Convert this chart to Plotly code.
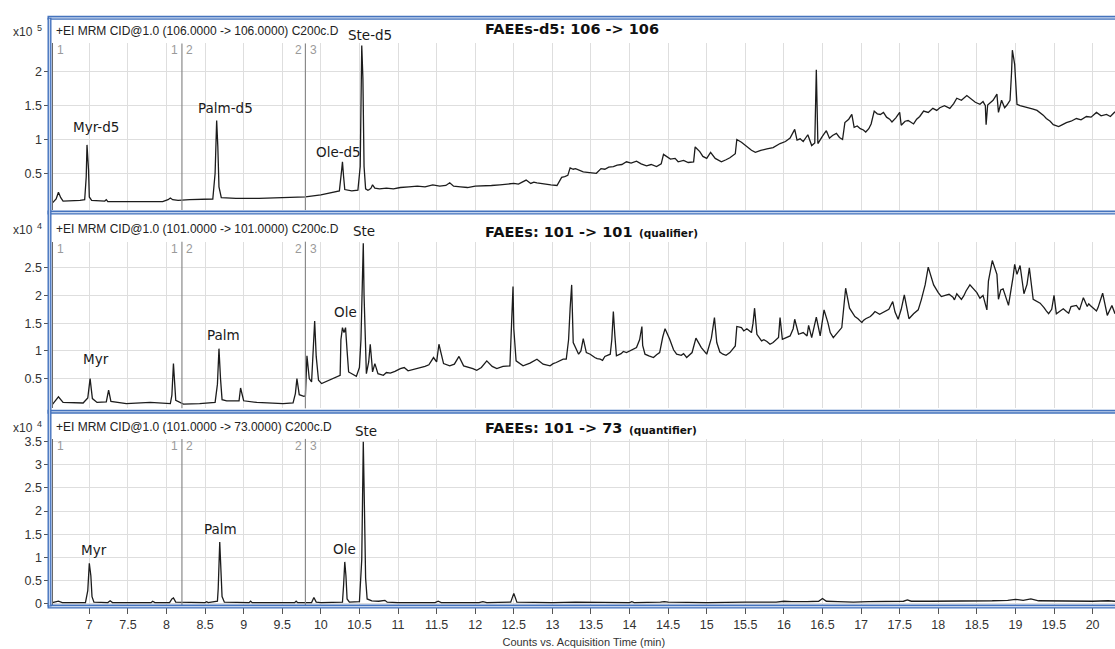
import plotly.graph_objects as go

# ---------------- data (counts in displayed units: x10^5 / x10^4) ----------------
# Panel 1: FAEEs-d5 106 -> 106  (x10^5)
t1 = [6.52, 6.57, 6.60, 6.63, 6.66, 6.75, 6.88, 6.94, 6.96, 6.97,
      6.99, 7.00, 7.03, 7.20, 7.22, 7.24, 7.40, 7.60, 7.80, 7.95,
      8.02, 8.05, 8.08, 8.15, 8.30, 8.50, 8.60, 8.63, 8.65, 8.665,
      8.68, 8.71, 8.90, 9.20, 9.50, 9.80, 10.00, 10.15, 10.24, 10.27,
      10.28, 10.295, 10.31, 10.40, 10.48, 10.51, 10.52, 10.53, 10.545, 10.56,
      10.58, 10.63, 10.67, 10.70, 10.85, 11.03, 11.25, 11.45, 11.62, 11.67,
      11.72, 11.90, 12.10, 12.32, 12.50, 12.62, 12.66, 12.72, 12.80, 12.90,
      13.06, 13.12, 13.20, 13.23, 13.30, 13.40, 13.57, 13.63, 13.79, 13.96,
      14.09, 14.22, 14.35, 14.41, 14.44, 14.59, 14.63, 14.70, 14.83, 14.85,
      14.91, 15.00, 15.05, 15.11, 15.19, 15.30, 15.37, 15.39, 15.45, 15.52,
      15.63, 15.78, 15.95, 16.08, 16.14, 16.17, 16.25, 16.31, 16.36, 16.40,
      16.42, 16.44, 16.55, 16.59, 16.68, 16.76, 16.79, 16.88, 16.91, 16.99,
      17.06, 17.13, 17.17, 17.25, 17.33, 17.40, 17.50, 17.52, 17.61, 17.68,
      17.76, 17.81, 17.93, 18.02, 18.15, 18.24, 18.37, 18.48, 18.54, 18.61,
      18.62, 18.64, 18.71, 18.76, 18.78, 18.82, 18.89, 18.93, 18.95, 18.96,
      18.99, 19.02, 19.10, 19.23, 19.32, 19.40, 19.49, 19.56, 19.66, 19.79,
      19.92, 20.05, 20.18, 20.29]
v1 = [0.06, 0.12, 0.22, 0.14, 0.09, 0.09, 0.10, 0.11, 0.45, 0.92,
      0.55, 0.15, 0.10, 0.09, 0.11, 0.08, 0.08, 0.07, 0.07, 0.08,
      0.11, 0.135, 0.11, 0.10, 0.11, 0.11, 0.12, 0.50, 1.28, 0.90,
      0.30, 0.14, 0.13, 0.13, 0.14, 0.15, 0.18, 0.22, 0.24, 0.55,
      0.67, 0.45, 0.26, 0.24, 0.25, 0.60, 1.90, 2.39, 1.90, 0.60,
      0.27, 0.26, 0.33, 0.28, 0.28, 0.29, 0.31, 0.33, 0.32, 0.36,
      0.31, 0.29, 0.31, 0.33, 0.35, 0.37, 0.40, 0.35, 0.36, 0.34,
      0.32, 0.44, 0.47, 0.58, 0.57, 0.52, 0.50, 0.57, 0.60, 0.67,
      0.68, 0.61, 0.60, 0.64, 0.78, 0.72, 0.67, 0.69, 0.67, 0.89,
      0.82, 0.72, 0.81, 0.72, 0.67, 0.73, 0.79, 1.00, 0.96, 0.89,
      0.81, 0.86, 0.94, 1.02, 1.15, 0.99, 0.97, 1.07, 0.91, 0.95,
      2.03, 0.94, 1.13, 1.02, 1.09, 1.00, 1.25, 1.37, 1.18, 1.16,
      1.11, 1.23, 1.42, 1.37, 1.33, 1.26, 1.40, 1.21, 1.28, 1.23,
      1.34, 1.42, 1.46, 1.47, 1.46, 1.61, 1.65, 1.55, 1.52, 1.50,
      1.22, 1.51, 1.58, 1.67, 1.40, 1.58, 1.51, 1.58, 2.00, 2.32,
      2.11, 1.52, 1.49, 1.45, 1.40, 1.31, 1.22, 1.19, 1.25, 1.31,
      1.34, 1.40, 1.37, 1.41]
# Panel 1: extra noise samples read between the main points
t1b = [10.61, 10.65, 10.76, 10.94, 11.14, 11.35, 11.54, 11.81, 12.00, 12.21,
       12.41, 12.56, 12.76, 12.85, 12.98, 13.16, 13.27, 13.35, 13.48, 13.68,
       13.73, 13.84, 13.90, 14.02, 14.15, 14.28, 14.48, 14.53, 14.76, 14.95,
       15.15, 15.25, 15.49, 15.58, 15.70, 15.86, 16.02, 16.21, 16.50, 16.63,
       16.72, 16.84, 16.95, 17.03, 17.10, 17.21, 17.29, 17.37, 17.45, 17.57,
       17.65, 17.72, 17.87, 17.98, 18.08, 18.20, 18.30, 18.42, 18.58, 18.68,
       18.86, 19.06, 19.16, 19.28, 19.36, 19.45, 19.61, 19.72, 19.85, 19.98,
       20.11, 20.23]
v1b = [0.25, 0.28, 0.27, 0.27, 0.30, 0.30, 0.31, 0.30, 0.31, 0.32,
       0.34, 0.34, 0.37, 0.35, 0.33, 0.45, 0.56, 0.54, 0.51, 0.56,
       0.59, 0.62, 0.63, 0.65, 0.64, 0.63, 0.75, 0.71, 0.66, 0.75,
       0.70, 0.70, 0.92, 0.84, 0.84, 0.88, 0.97, 1.01, 1.05, 1.06,
       1.03, 1.30, 1.20, 1.14, 1.16, 1.38, 1.40, 1.30, 1.32, 1.27,
       1.25, 1.30, 1.40, 1.43, 1.50, 1.53, 1.58, 1.60, 1.56, 1.55,
       1.47, 1.50, 1.47, 1.43, 1.36, 1.27, 1.22, 1.27, 1.29, 1.33,
       1.35, 1.34]

# Panel 2: FAEEs 101 -> 101 qualifier (x10^4)
t2 = [6.52, 6.60, 6.66, 6.92, 6.98, 7.01, 7.04, 7.10, 7.22, 7.25,
      7.28, 7.48, 7.79, 8.05, 8.07, 8.09, 8.12, 8.22, 8.43, 8.63,
      8.66, 8.68, 8.70, 8.72, 8.78, 8.94, 8.96, 9.00, 9.17, 9.51,
      9.64, 9.67, 9.69, 9.72, 9.78, 9.80, 9.82, 9.85, 9.88, 9.90,
      9.92, 9.94, 9.97, 10.01, 10.16, 10.25, 10.26, 10.28, 10.30, 10.32,
      10.34, 10.36, 10.46, 10.50, 10.52, 10.535, 10.55, 10.56, 10.58, 10.59,
      10.62, 10.64, 10.66, 10.67, 10.70, 10.74, 10.81, 10.90, 11.03, 11.13,
      11.24, 11.35, 11.46, 11.50, 11.53, 11.59, 11.67, 11.79, 11.85, 11.93,
      12.02, 12.15, 12.28, 12.36, 12.45, 12.47, 12.49, 12.50, 12.53, 12.62,
      12.71, 12.80, 12.88, 12.97, 13.05, 13.14, 13.18, 13.21, 13.23, 13.25,
      13.27, 13.34, 13.37, 13.40, 13.44, 13.49, 13.55, 13.62, 13.68, 13.75,
      13.77, 13.79, 13.81, 13.83, 13.89, 13.96, 14.02, 14.09, 14.13, 14.16,
      14.17, 14.20, 14.31, 14.39, 14.43, 14.46, 14.52, 14.61, 14.67, 14.74,
      14.81, 14.86, 14.93, 15.00, 15.06, 15.10, 15.13, 15.21, 15.30, 15.37,
      15.39, 15.45, 15.52, 15.58, 15.60, 15.62, 15.65, 15.71, 15.78, 15.86,
      15.93, 15.95, 15.98, 16.08, 16.12, 16.14, 16.19, 16.30, 16.32, 16.36,
      16.42, 16.47, 16.52, 16.57, 16.64, 16.70, 16.75, 16.80, 16.85, 16.92,
      17.01, 17.06, 17.12, 17.18, 17.24, 17.31, 17.36, 17.41, 17.44, 17.48,
      17.52, 17.56, 17.60, 17.62, 17.68, 17.74, 17.78, 17.83, 17.87, 17.94,
      18.00, 18.09, 18.19, 18.24, 18.30, 18.36, 18.41, 18.50, 18.58, 18.63,
      18.65, 18.70, 18.76, 18.78, 18.81, 18.84, 18.91, 18.97, 18.99, 19.02,
      19.06, 19.11, 19.15, 19.18, 19.23, 19.32, 19.37, 19.43, 19.47, 19.50,
      19.53, 19.59, 19.66, 19.72, 19.79, 19.83, 19.88, 19.93, 19.97, 20.03,
      20.07, 20.13, 20.19, 20.25, 20.29]
v2 = [0.03, 0.17, 0.07, 0.06, 0.15, 0.50, 0.14, 0.07, 0.08, 0.29,
      0.09, 0.05, 0.07, 0.05, 0.20, 0.77, 0.11, 0.04, 0.05, 0.07,
      0.40, 1.04, 0.50, 0.12, 0.10, 0.10, 0.33, 0.10, 0.07, 0.05,
      0.06, 0.23, 0.50, 0.21, 0.18, 0.19, 0.91, 0.50, 0.44, 0.90,
      1.54, 0.90, 0.47, 0.41, 0.50, 0.56, 1.20, 1.42, 1.33, 1.42,
      1.00, 0.62, 0.54, 0.70, 1.21, 2.00, 2.94, 2.00, 0.90, 0.59,
      0.80, 1.12, 0.80, 0.62, 0.77, 0.59, 0.56, 0.60, 0.68, 0.64,
      0.68, 0.72, 0.88, 0.80, 1.12, 0.77, 0.73, 0.90, 0.73, 0.70,
      0.65, 0.82, 0.68, 0.72, 0.73, 1.50, 2.16, 1.40, 0.82, 0.73,
      0.78, 0.85, 0.76, 0.73, 0.79, 0.85, 0.85, 1.20, 1.77, 2.19,
      1.15, 0.94, 1.00, 1.22, 0.97, 0.94, 0.88, 0.85, 0.90, 0.94,
      1.20, 1.71, 1.27, 0.91, 0.95, 0.97, 1.01, 1.06, 1.20, 1.44,
      1.10, 0.94, 0.88, 0.97, 1.25, 1.40, 1.21, 0.94, 0.92, 0.88,
      0.97, 1.23, 1.06, 0.94, 1.23, 1.60, 1.15, 0.94, 0.97, 1.09,
      1.44, 1.42, 1.40, 1.33, 1.50, 1.77, 1.30, 1.18, 1.17, 1.15,
      1.24, 1.60, 1.21, 1.27, 1.40, 1.57, 1.30, 1.27, 1.46, 1.24,
      1.61, 1.27, 1.74, 1.51, 1.24, 1.35, 1.42, 2.13, 1.77, 1.62,
      1.51, 1.58, 1.62, 1.71, 1.66, 1.72, 1.75, 1.89, 1.70, 1.57,
      1.75, 2.01, 1.75, 1.58, 1.67, 1.74, 1.92, 2.19, 2.51, 2.19,
      2.05, 2.00, 1.97, 2.03, 1.93, 2.08, 2.19, 2.05, 2.00, 1.74,
      2.26, 2.63, 2.38, 1.93, 2.10, 2.12, 1.82, 2.34, 2.56, 2.38,
      2.54, 2.03, 2.20, 2.50, 1.93, 1.86, 1.78, 1.67, 1.75, 2.00,
      1.67, 1.72, 1.71, 1.80, 1.82, 1.74, 1.96, 1.80, 1.82, 1.75,
      1.78, 2.04, 1.64, 1.82, 1.67]
# Panel 2: extra noise samples read between the main points
t2b = [10.85, 10.96, 11.08, 11.19, 11.30, 11.40, 11.73, 11.97, 12.08, 12.22,
       12.32, 12.66, 12.84, 13.01, 13.10, 13.58, 13.65, 13.92, 14.05, 14.25,
       14.35, 14.57, 14.70, 15.17, 15.25, 15.48, 15.74, 15.82, 16.03, 16.25,
       16.60, 16.96, 17.03, 17.15, 17.28, 18.04, 18.14, 18.21, 18.33, 18.45,
       18.54, 19.35, 19.40, 19.62, 19.69, 19.95, 20.05]
v2b = [0.61, 0.63, 0.70, 0.66, 0.70, 0.75, 0.76, 0.68, 0.70, 0.72,
       0.70, 0.75, 0.80, 0.77, 0.82, 0.86, 0.83, 0.99, 1.03, 0.91,
       0.93, 1.02, 0.95, 0.98, 0.92, 1.36, 1.20, 1.12, 1.24, 1.33,
       1.33, 1.58, 1.55, 1.66, 1.69, 1.98, 2.02, 1.92, 1.99, 2.13,
       1.95, 1.82, 1.72, 1.76, 1.68, 1.85, 1.72]

# Panel 3: FAEEs 101 -> 73 quantifier (x10^4)
t3 = [6.52, 6.60, 6.65, 6.95, 6.98, 7.00, 7.02, 7.035, 7.06, 7.24,
      7.27, 7.30, 7.80, 7.82, 7.85, 8.04, 8.07, 8.09, 8.12, 8.50,
      8.52, 8.54, 8.66, 8.67, 8.69, 8.705, 8.72, 8.75, 9.07, 9.09,
      9.11, 9.66, 9.68, 9.70, 9.88, 9.91, 9.94, 10.00, 10.28, 10.295,
      10.31, 10.325, 10.34, 10.37, 10.50, 10.53, 10.55, 10.565, 10.58, 10.60,
      10.66, 10.75, 10.83, 10.86, 11.00, 11.48, 11.52, 11.56, 12.05, 12.10,
      12.15, 12.46, 12.50, 12.54, 13.00, 13.30, 14.00, 14.03, 14.06, 14.40,
      14.45, 14.50, 15.00, 15.50, 15.90, 16.00, 16.10, 16.30, 16.45, 16.50,
      16.55, 16.70, 16.90, 17.10, 17.30, 17.55, 17.60, 17.65, 17.90, 18.10,
      18.30, 18.50, 18.70, 18.90, 19.00, 19.10, 19.20, 19.30, 19.60, 19.80,
      20.00, 20.20, 20.29]
v3 = [0.02, 0.05, 0.02, 0.02, 0.28, 0.87, 0.60, 0.15, 0.03, 0.02,
      0.06, 0.02, 0.02, 0.05, 0.02, 0.02, 0.10, 0.12, 0.03, 0.02,
      0.04, 0.02, 0.05, 0.32, 1.33, 0.67, 0.15, 0.03, 0.02, 0.05,
      0.02, 0.02, 0.05, 0.02, 0.02, 0.13, 0.03, 0.02, 0.03, 0.40,
      0.90, 0.60, 0.10, 0.03, 0.04, 0.95, 3.50, 2.05, 0.55, 0.10,
      0.06, 0.05, 0.07, 0.03, 0.02, 0.02, 0.05, 0.02, 0.02, 0.04,
      0.02, 0.03, 0.22, 0.03, 0.02, 0.03, 0.02, 0.04, 0.02, 0.03,
      0.04, 0.03, 0.02, 0.03, 0.03, 0.05, 0.04, 0.04, 0.05, 0.11,
      0.05, 0.04, 0.03, 0.04, 0.04, 0.05, 0.08, 0.05, 0.05, 0.05,
      0.06, 0.06, 0.06, 0.07, 0.09, 0.07, 0.10, 0.06, 0.05, 0.05,
      0.05, 0.06, 0.05]

x_tick_vals = [7, 7.5, 8, 8.5, 9, 9.5, 10, 10.5, 11, 11.5, 12, 12.5, 13, 13.5,
               14, 14.5, 15, 15.5, 16, 16.5, 17, 17.5, 18, 18.5, 19, 19.5, 20]
x_tick_text = ["7", "7.5", "8", "8.5", "9", "9.5", "10", "10.5", "11", "11.5", "12",
               "12.5", "13", "13.5", "14", "14.5", "15", "15.5", "16", "16.5", "17",
               "17.5", "18", "18.5", "19", "19.5", "20"]
y1_ticks = [0.5, 1, 1.5, 2]
y1_text = ["0.5", "1", "1.5", "2"]
y2_ticks = [0.5, 1, 1.5, 2, 2.5]
y2_text = ["0.5", "1", "1.5", "2", "2.5"]
y3_ticks = [0, 0.5, 1, 1.5, 2, 2.5, 3, 3.5]
y3_text = ["0", "0.5", "1", "1.5", "2", "2.5", "3", "3.5"]
segment_bounds = [8.2, 9.8]
x_title = "Counts vs. Acquisition Time (min)"

headers = ["+EI MRM CID@1.0 (106.0000 -> 106.0000) C200c.D",
           "+EI MRM CID@1.0 (101.0000 -> 101.0000) C200c.D",
           "+EI MRM CID@1.0 (101.0000 -> 73.0000) C200c.D"]
titles = ["FAEEs-d5: 106 -> 106", "FAEEs: 101 -> 101", "FAEEs: 101 -> 73"]
subtitles = ["", "(qualifier)", "(quantifier)"]
exponents = ["5", "4", "4"]
peak_names = [["Myr-d5", "Palm-d5", "Ole-d5", "Ste-d5"],
              ["Myr", "Palm", "Ole", "Ste"],
              ["Myr", "Palm", "Ole", "Ste"]]

# ---------------- layout geometry (pixels) ----------------
W, H = 1115, 649


def px(x):
    return x / W


def py(y):
    return 1 - y / H


X_LEFT = 52.5
XR = [6.523, 20.29]
plot_tops = [40, 241, 441]
plot_bots = [209, 410, 610]
y_ranges = [[-0.044, 2.42], [-0.036, 2.97], [-0.043, 3.56]]
frame_tops = [14, 211.5, 413.5]
frame_bottom = 611
header_y = [27, 228, 429]
title_y = [25, 231, 430]
subtitle_x = [0, 637, 627]
peak_pos = [[(95.5, 125), (225.5, 105), (338, 150), (370, 31)],
            [(96, 360), (223, 336), (345, 312), (363.5, 230)],
            [(94, 554), (220.5, 532), (344.5, 553), (366, 433)]]

FONT = "Liberation Sans, Arial, sans-serif"
LBL_FONT = "DejaVu Sans, Verdana, sans-serif"
GRID = "#dedede"
LINE = "#1c1c1c"


def merged(ta, va, tb, vb):
    pts = sorted(zip(ta + tb, va + vb))
    return [p[0] for p in pts], [p[1] for p in pts]


fig = go.Figure()
series = [merged(t1, v1, t1b, v1b), merged(t2, v2, t2b, v2b), (t3, v3)]
for i, (tt, vv) in enumerate(series):
    sfx = "" if i == 0 else str(i + 1)
    fig.add_trace(go.Scatter(x=tt, y=vv, mode="lines", xaxis="x" + sfx, yaxis="y" + sfx,
                             line=dict(color=LINE, width=1.3), hoverinfo="skip",
                             showlegend=False))

layout = dict(width=W, height=H, margin=dict(l=0, r=0, t=0, b=0),
              paper_bgcolor="white", plot_bgcolor="white", showlegend=False)

ytv = [y1_ticks, y2_ticks, y3_ticks]
ytt = [y1_text, y2_text, y3_text]
for i in range(3):
    sfx = "" if i == 0 else str(i + 1)
    xa = dict(domain=[px(X_LEFT), 1], range=XR, anchor="y" + sfx,
              tickvals=x_tick_vals, ticktext=x_tick_text,
              showgrid=True, gridcolor=GRID, gridwidth=1, zeroline=False,
              showline=False, ticks="", showticklabels=False)
    if i == 2:
        xa.update(ticks="outside", ticklen=7, tickcolor="#555", tickwidth=1,
                  showticklabels=True, automargin=False,
                  tickfont=dict(family=FONT, size=12.5, color="#333"),
                  title=dict(text=x_title, standoff=7,
                             font=dict(family=FONT, size=11, color="#333")))
    ya = dict(domain=[py(plot_bots[i]), py(plot_tops[i])], range=y_ranges[i],
              anchor="x" + sfx, tickvals=ytv[i], ticktext=ytt[i],
              showgrid=True, gridcolor=GRID, gridwidth=1, zeroline=False,
              showline=True, linecolor="#6a6a6a", linewidth=1.2,
              ticks="outside", ticklen=7, tickcolor="#555", tickwidth=1,
              tickfont=dict(family=FONT, size=12.5, color="#333"))
    layout["xaxis" + sfx] = xa
    layout["yaxis" + sfx] = ya

fig.update_layout(**layout)

shapes = []
# segment boundary lines
for i in range(3):
    sfx = "" if i == 0 else str(i + 1)
    for b in segment_bounds:
        shapes.append(dict(type="line", xref="x" + sfx, yref="y" + sfx + " domain",
                           x0=b, x1=b, y0=0, y1=1, line=dict(color="#8a8a8a", width=1.2)))


def dbl_h(y):
    shapes.append(dict(type="line", xref="paper", yref="paper", x0=px(47.5), x1=1,
                       y0=py(y), y1=py(y), line=dict(color="#4573bd", width=4)))
    shapes.append(dict(type="line", xref="paper", yref="paper", x0=px(49), x1=1,
                       y0=py(y), y1=py(y), line=dict(color="#c6d5ee", width=1.2)))


for y in frame_tops + [frame_bottom]:
    dbl_h(y)
shapes.append(dict(type="line", xref="paper", yref="paper", x0=px(49.5), x1=px(49.5),
                   y0=py(frame_tops[0]), y1=py(frame_bottom),
                   line=dict(color="#4573bd", width=4)))
shapes.append(dict(type="line", xref="paper", yref="paper", x0=px(49.5), x1=px(49.5),
                   y0=py(frame_tops[0] + 1), y1=py(frame_bottom - 1),
                   line=dict(color="#c6d5ee", width=1.2)))

ann = []
for i in range(3):
    ann.append(dict(text=headers[i], x=px(54), y=py(header_y[i]), xref="paper", yref="paper",
                    xanchor="left", yanchor="middle", showarrow=False,
                    font=dict(family=FONT, size=12, color="#222")))
    ann.append(dict(text="<b>" + titles[i] + "</b>", x=px(483), y=py(title_y[i]),
                    xref="paper", yref="paper", xanchor="left", yanchor="middle",
                    showarrow=False, font=dict(family=LBL_FONT, size=14.5, color="#111")))
    if subtitles[i]:
        ann.append(dict(text="<b>" + subtitles[i] + "</b>", x=px(subtitle_x[i]),
                        y=py(title_y[i] + 1.5), xref="paper", yref="paper",
                        xanchor="left", yanchor="middle", showarrow=False,
                        font=dict(family=LBL_FONT, size=10.5, color="#111")))
    ann.append(dict(text="x10", x=px(11), y=py(header_y[i] + 1),
                    xref="paper", yref="paper", xanchor="left", yanchor="middle",
                    showarrow=False, font=dict(family=FONT, size=12, color="#333")))
    ann.append(dict(text=exponents[i], x=px(34.5), y=py(header_y[i] - 3),
                    xref="paper", yref="paper", xanchor="left", yanchor="middle",
                    showarrow=False, font=dict(family=FONT, size=9, color="#333")))
    top = plot_tops[i] + 7
    for txt, xx, anc in [("1", 55, "left"), ("1", 180, "right"), ("2", 184, "left"),
                         ("2", 303.5, "right"), ("3", 307.5, "left")]:
        ann.append(dict(text=txt, x=px(xx), y=py(top), xref="paper", yref="paper",
                        xanchor=anc, yanchor="middle", showarrow=False,
                        font=dict(family=FONT, size=12, color="#9a9a9a")))
    for name, (xx, yy) in zip(peak_names[i], peak_pos[i]):
        ann.append(dict(text=name, x=px(xx), y=py(yy), xref="paper", yref="paper",
                        xanchor="center", yanchor="middle", showarrow=False,
                        font=dict(family=LBL_FONT, size=13.5, color="#1a1a1a")))

fig.update_layout(shapes=shapes, annotations=ann)
fig.write_html("out.html")
